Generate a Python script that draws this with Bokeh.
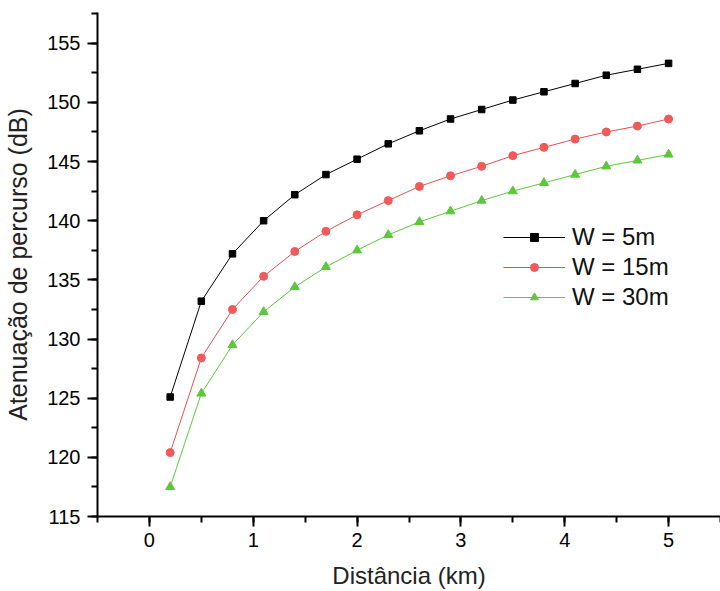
from bokeh.plotting import figure
from bokeh.models import Range1d, SingleIntervalTicker, Legend, LegendItem
from bokeh.embed import file_html
from bokeh.resources import INLINE

distance_km = [0.2, 0.5, 0.8, 1.1, 1.4, 1.7, 2.0, 2.3, 2.6, 2.9, 3.2, 3.5, 3.8, 4.1, 4.4, 4.7, 5.0]
w5 = [125.1, 133.2, 137.2, 140.0, 142.2, 143.9, 145.2, 146.5, 147.6, 148.6, 149.4, 150.2, 150.9, 151.6, 152.3, 152.8, 153.3]
w15 = [120.4, 128.4, 132.5, 135.3, 137.4, 139.1, 140.5, 141.7, 142.9, 143.8, 144.6, 145.5, 146.2, 146.9, 147.5, 148.0, 148.6]
w30 = [117.5, 125.4, 129.5, 132.3, 134.4, 136.1, 137.5, 138.8, 139.9, 140.8, 141.7, 142.5, 143.2, 143.9, 144.6, 145.1, 145.6]
series_labels = ["W = 5m", "W = 15m", "W = 30m"]
x_title = "Distância (km)"
y_title = "Atenuação de percurso (dB)"

FONT = "Liberation Sans"

p = figure(width=720, height=591, output_backend="svg", toolbar_location=None,
           x_range=Range1d(-0.5, 5.5), y_range=Range1d(115, 157.6),
           min_border_left=97, min_border_right=0, min_border_top=12, min_border_bottom=75)
p.outline_line_color = None
p.xgrid.visible = False
p.ygrid.visible = False
p.background_fill_color = "white"
p.border_fill_color = "white"

p.xaxis.ticker = SingleIntervalTicker(interval=1, num_minor_ticks=2)
p.yaxis.ticker = SingleIntervalTicker(interval=5, num_minor_ticks=2)

for ax in (p.xaxis[0], p.yaxis[0]):
    ax.axis_line_width = 2
    ax.axis_line_color = "black"
    ax.major_tick_line_width = 2
    ax.minor_tick_line_width = 2
    ax.major_tick_out = 10
    ax.major_tick_in = 0
    ax.minor_tick_out = 6
    ax.minor_tick_in = 0
    ax.major_label_text_font = FONT
    ax.major_label_text_font_size = "20px"
    ax.major_label_text_color = "black"
    ax.axis_label_text_font = FONT
    ax.axis_label_text_font_style = "normal"
    ax.axis_label_text_color = "#222222"

p.xaxis.axis_label = x_title
p.yaxis.axis_label = y_title
p.xaxis.axis_label_text_font_size = "24px"
p.yaxis.axis_label_text_font_size = "25px"
p.xaxis.major_label_standoff = 6
p.yaxis.major_label_standoff = 7
p.xaxis.axis_label_standoff = 12
p.yaxis.axis_label_standoff = 12

c5, c15, c30 = "black", "#F05A5A", "#5CC73A"
l5 = p.line(distance_km, w5, line_color=c5, line_width=1)
m5 = p.scatter(distance_km, w5, marker="square", size=6.5, fill_color=c5, line_color=c5)
l15 = p.line(distance_km, w15, line_color="#E65050", line_width=1)
m15 = p.scatter(distance_km, w15, marker="circle", size=8, fill_color=c15, line_color=c15)
l30 = p.line(distance_km, w30, line_color=c30, line_width=1)
m30 = p.scatter(distance_km, w30, marker="triangle", size=9, fill_color=c30, line_color=c30)

legend = Legend(items=[
    LegendItem(label=series_labels[0], renderers=[l5, m5]),
    LegendItem(label=series_labels[1], renderers=[l15, m15]),
    LegendItem(label=series_labels[2], renderers=[l30, m30]),
], location=(406, 205))
legend.border_line_color = None
legend.background_fill_alpha = 0
legend.padding = 0
legend.margin = 0
legend.spacing = 2
legend.glyph_width = 62
legend.glyph_height = 20
legend.label_height = 20
legend.label_standoff = 7
legend.label_text_font = FONT
legend.label_text_font_size = "24px"
legend.label_text_color = "#111111"
p.add_layout(legend, "center")

open("out.html", "w").write(file_html(p, INLINE))
